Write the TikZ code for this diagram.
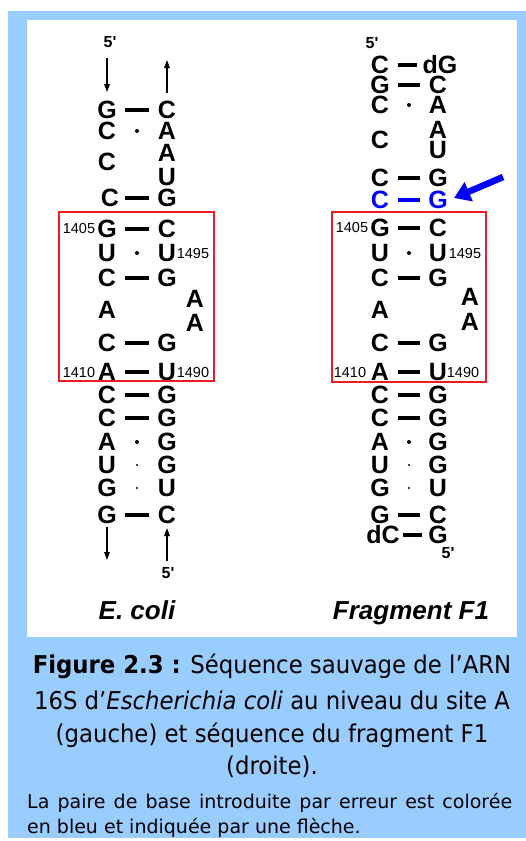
\documentclass[tikz,border=0pt]{standalone}
\usepackage{fontspec}
\setmainfont{Liberation Sans}[Ligatures=TeXOff]
\newfontfamily\capfont[FakeStretch=0.93]{DejaVu Sans}
\newfontfamily\notefont{DejaVu Sans}
\usetikzlibrary{arrows.meta}
\definecolor{bgblue}{RGB}{153,204,255}
\definecolor{boxred}{RGB}{235,28,36}
\definecolor{errblue}{RGB}{0,0,255}
\begin{document}
\begin{tikzpicture}[x=1pt,y=-1pt,
  nt/.style={inner sep=0pt, font=\fontsize{25}{25}\selectfont\bfseries},
  numlbl/.style={inner sep=0pt, font=\fontsize{14.5}{14.5}\selectfont},
  primelbl/.style={inner sep=0pt, font=\fontsize{16}{16}\selectfont\bfseries},
  titlelbl/.style={inner sep=0pt, anchor=base, font=\fontsize{26}{26}\selectfont\bfseries\itshape},
  bond/.style={line width=3.5pt, shorten <=18pt, shorten >=18pt},
  wc/.style={circle, fill, inner sep=0pt, minimum size=4pt},
  gu/.style={circle, fill, inner sep=0pt, minimum size=2.4pt},
  strand/.style={line width=1.4pt, -{Triangle[length=8pt,width=5.5pt]}},
  sitebox/.style={draw=boxred, line width=2pt},
  capline/.style={inner sep=0pt, anchor=base, font=\capfont\fontsize{24.5}{24.5}\selectfont},
  smalltxt/.style={inner sep=0pt, anchor=base west, font=\notefont\fontsize{19}{19}\selectfont},
]
\useasboundingbox (0,0) rectangle (526,841);
\fill[white] (0,0) rectangle (526,841);
\fill[bgblue] (8,11) rectangle (526,838);
\fill[white] (27,20) rectangle (517,637);

% ---------------- E. coli ----------------
\node[primelbl] (e5a) at (110,42) {5'};
\coordinate (eas) at (107,58); \coordinate (eae) at (107,92);
\draw[strand] (eas) -- (eae);
\coordinate (ebs) at (167,93); \coordinate (ebe) at (167,60);
\draw[strand] (ebs) -- (ebe);

\node[nt] (e1l) at (107,110) {G}; \node[nt] (e1r) at (167,110) {C};
\draw[bond] (e1l.center) -- (e1r.center);
\node[nt] (e2l) at (107,131) {C}; \node[nt] (e2r) at (167,131) {A};
\path (e2l.center) -- node[wc] (e2d) {} (e2r.center);
\node[nt] (e3l) at (107,162) {C}; \node[nt] (e3r) at (167,153) {A}; \node[nt] (e3s) at (167,177) {U};
\node[nt] (e4l) at (110,198) {C}; \node[nt] (e4r) at (167,198) {G};
\draw[bond, shorten <=15pt] (e4l.center) -- (e4r.center);
\node[nt] (e5l) at (107,229) {G}; \node[nt] (e5r) at (167,229) {C};
\draw[bond] (e5l.center) -- (e5r.center);
\node[numlbl] (e1405) at (79,229) {1405};
\node[nt] (e6l) at (107,253) {U}; \node[nt] (e6r) at (167,253) {U};
\path (e6l.center) -- node[wc] (e6d) {} (e6r.center);
\node[numlbl] (e1495) at (193,254) {1495};
\node[nt] (e7l) at (107,278) {C}; \node[nt] (e7r) at (167,278) {G};
\draw[bond] (e7l.center) -- (e7r.center);
\node[nt] (e8l) at (107,310) {A}; \node[nt] (e8r) at (195,299) {A}; \node[nt] (e8s) at (195,323) {A};
\node[nt] (e9l) at (107,343) {C}; \node[nt] (e9r) at (167,343) {G};
\draw[bond] (e9l.center) -- (e9r.center);
\node[nt] (e10l) at (107,372) {A}; \node[nt] (e10r) at (167,372) {U};
\draw[bond] (e10l.center) -- (e10r.center);
\node[numlbl] (e1410) at (79,373) {1410}; \node[numlbl] (e1490) at (193,373) {1490};
\draw[sitebox] (59,212) rectangle (214,381);
\node[nt] (e11l) at (107,395) {C}; \node[nt] (e11r) at (167,395) {G};
\draw[bond] (e11l.center) -- (e11r.center);
\node[nt] (e12l) at (107,418) {C}; \node[nt] (e12r) at (167,418) {G};
\draw[bond] (e12l.center) -- (e12r.center);
\node[nt] (e13l) at (107,442) {A}; \node[nt] (e13r) at (167,442) {G};
\path (e13l.center) -- node[wc] (e13d) {} (e13r.center);
\node[nt] (e14l) at (107,465) {U}; \node[nt] (e14r) at (167,465) {G};
\path (e14l.center) -- node[gu] (e14d) {} (e14r.center);
\node[nt] (e15l) at (107,488) {G}; \node[nt] (e15r) at (167,488) {U};
\path (e15l.center) -- node[gu] (e15d) {} (e15r.center);
\node[nt] (e16l) at (107,515) {G}; \node[nt] (e16r) at (167,515) {C};
\draw[bond] (e16l.center) -- (e16r.center);
\coordinate (ecs) at (107,527); \coordinate (ece) at (107,560);
\draw[strand] (ecs) -- (ece);
\coordinate (eds) at (167,561); \coordinate (ede) at (167,528);
\draw[strand] (eds) -- (ede);
\node[primelbl] (e5b) at (168,573) {5'};
\node[titlelbl] (etitle) at (137,619) {E. coli};

% ---------------- Fragment F1 ----------------
\node[primelbl] (f5a) at (372,43) {5'};
\node[nt] (f1l) at (380,65) {C}; \node[nt] (f1r) at (440,65) {dG};
\draw[bond, shorten >=23pt] (f1l.center) -- (f1r.center);
\node[nt] (f2l) at (380,85) {G}; \node[nt] (f2r) at (438,85) {C};
\draw[bond] (f2l.center) -- (f2r.center);
\node[nt] (f3l) at (380,105) {C}; \node[nt] (f3r) at (438,105) {A};
\path (f3l.center) -- node[wc] (f3d) {} (f3r.center);
\node[nt] (f4l) at (380,140) {C}; \node[nt] (f4r) at (438,130) {A}; \node[nt] (f4s) at (438,150) {U};
\node[nt] (f5l) at (380,178) {C}; \node[nt] (f5r) at (438,178) {G};
\draw[bond] (f5l.center) -- (f5r.center);
\node[nt, errblue] (f6l) at (380,200) {C}; \node[nt, errblue] (f6r) at (438,200) {G};
\draw[bond, errblue] (f6l.center) -- (f6r.center);
\coordinate (fas) at (503,177); \coordinate (fae) at (454,198);
\draw[errblue, line width=6.5pt, -{Triangle[length=16pt,width=20pt]}] (fas) -- (fae);
\node[nt] (f7l) at (380,228) {G}; \node[nt] (f7r) at (438,228) {C};
\draw[bond] (f7l.center) -- (f7r.center);
\node[numlbl] (f1405) at (352,228) {1405};
\node[nt] (f8l) at (380,253) {U}; \node[nt] (f8r) at (438,253) {U};
\path (f8l.center) -- node[wc] (f8d) {} (f8r.center);
\node[numlbl] (f1495) at (465,254) {1495};
\node[nt] (f9l) at (380,278) {C}; \node[nt] (f9r) at (438,278) {G};
\draw[bond] (f9l.center) -- (f9r.center);
\node[nt] (f10l) at (380,310) {A}; \node[nt] (f10r) at (470,297) {A}; \node[nt] (f10s) at (470,322) {A};
\node[nt] (f11l) at (380,343) {C}; \node[nt] (f11r) at (438,343) {G};
\draw[bond] (f11l.center) -- (f11r.center);
\node[nt] (f12l) at (380,372) {A}; \node[nt] (f12r) at (438,372) {U};
\draw[bond] (f12l.center) -- (f12r.center);
\node[numlbl] (f1410) at (350,373) {1410}; \node[numlbl] (f1490) at (463,373) {1490};
\draw[sitebox] (332,212) rectangle (486,382);
\node[nt] (f13l) at (380,395) {C}; \node[nt] (f13r) at (438,395) {G};
\draw[bond] (f13l.center) -- (f13r.center);
\node[nt] (f14l) at (380,418) {C}; \node[nt] (f14r) at (438,418) {G};
\draw[bond] (f14l.center) -- (f14r.center);
\node[nt] (f15l) at (380,442) {A}; \node[nt] (f15r) at (438,442) {G};
\path (f15l.center) -- node[wc] (f15d) {} (f15r.center);
\node[nt] (f16l) at (380,465) {U}; \node[nt] (f16r) at (438,465) {G};
\path (f16l.center) -- node[gu] (f16d) {} (f16r.center);
\node[nt] (f17l) at (380,488) {G}; \node[nt] (f17r) at (438,488) {U};
\path (f17l.center) -- node[gu] (f17d) {} (f17r.center);
\node[nt] (f18l) at (380,515) {G}; \node[nt] (f18r) at (438,515) {C};
\draw[bond] (f18l.center) -- (f18r.center);
\node[nt] (f19l) at (383,535) {dC}; \node[nt] (f19r) at (438,535) {G};
\draw[bond, shorten <=20pt, shorten >=16pt] (f19l.center) -- (f19r.center);
\node[primelbl] (f5b) at (448,553) {5'};
\node[titlelbl] (ftitle) at (411,619) {Fragment F1};

% ---------------- caption ----------------
\node[capline] (c1) at (272,673) {\textbf{Figure 2.3 :} Séquence sauvage de l’ARN};
\node[capline] (c2) at (272,709) {16S d’\textit{Escherichia coli} au niveau du site A};
\node[capline] (c3) at (272,742) {(gauche) et séquence du fragment F1};
\node[capline] (c4) at (272,774) {(droite).};
\node[smalltxt] (s1) at (27,808) {\makebox[485pt][s]{La paire de base introduite par erreur est colorée}};
\node[smalltxt] (s2) at (27,833) {en bleu et indiquée par une flèche.};
\end{tikzpicture}
\end{document}
